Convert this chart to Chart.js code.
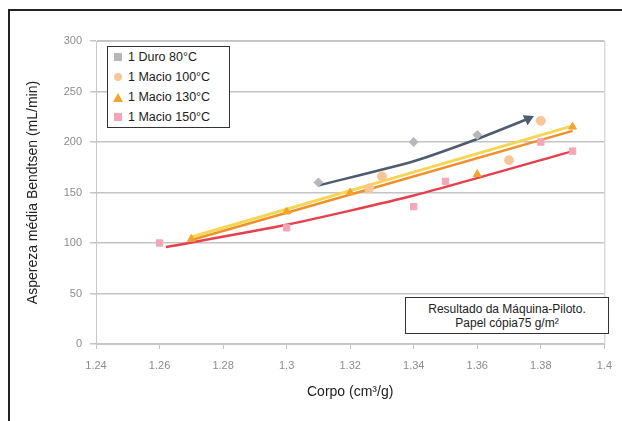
<!DOCTYPE html>
<html>
<head>
<meta charset="utf-8">
<script src="https://cdn.jsdelivr.net/npm/chart.js@4.4.1/dist/chart.umd.min.js"></script>
<style>
  body { margin: 0; background: #fff; font-family: "Liberation Sans", Arial, sans-serif; }
  #wrap { position: relative; width: 622px; height: 421px; overflow: hidden; }
  #moldura { position: absolute; left: 8px; top: 9px; width: 630px; height: 430px; border-left: 2px solid #222; border-top: 2px solid #222; }
  #grafico { position: absolute; left: 0; top: 0; }
  #legenda { position: absolute; left: 107px; top: 46px; width: 121px; height: 80px; border: 1px solid #333; background: #fff; }
  .item { position: relative; height: 20px; line-height: 20px; font-size: 12.5px; color: #222; padding-left: 20px; }
  .marca { position: absolute; left: 6px; top: 6px; width: 8px; height: 8px; }
  #nota { position: absolute; left: 405px; top: 297px; width: 204px; height: 37px; border: 1px solid #333; background: #fff;
          font-size: 12px; color: #222; text-align: center; line-height: 14px; padding-top: 4px; box-sizing: border-box; }
</style>
</head>
<body>
<div id="wrap">
  <div id="moldura"></div>
  <canvas id="grafico" width="622" height="421"></canvas>
  <div id="legenda"></div>
  <div id="nota">Resultado da Máquina-Piloto.<br>Papel cópia75 g/m²</div>
</div>
<script>
// eixos
const xTicks = [1.24, 1.26, 1.28, 1.30, 1.32, 1.34, 1.36, 1.38, 1.40]
const yTicks = [0, 50, 100, 150, 200, 250, 300]

// séries (pontos medidos)
const nomes = ['1 Duro 80°C', '1 Macio 100°C', '1 Macio 130°C', '1 Macio 150°C']
const duroX = [1.31, 1.34, 1.36]
const duroY = [160, 200, 207]
const macio100X = [1.326, 1.33, 1.37, 1.38]
const macio100Y = [154, 166, 182, 221]
const macio130X = [1.27, 1.30, 1.32, 1.36, 1.39]
const macio130Y = [104, 131, 150, 168, 215]
const macio150X = [1.26, 1.30, 1.34, 1.35, 1.38, 1.39]
const macio150Y = [100, 115, 136, 161, 200, 191]

// linhas de tendência
const tendDuroX = [1.31, 1.34, 1.36, 1.376]
const tendDuroY = [157, 181, 203, 223]
const tend100X = [1.27, 1.39]
const tend100Y = [106, 216]
const tend130X = [1.27, 1.39]
const tend130Y = [103, 211]
const tend150X = [1.262, 1.30, 1.34, 1.39]
const tend150Y = [96, 118, 147, 191]

const cores = ['#b8b8bc', '#f9c699', '#f2a42c', '#f3a6b8']
const estilos = ['rectRot', 'circle', 'triangle', 'rect']

const pares = (xs, ys) => xs.map((x, i) => ({ x: x, y: ys[i] }))

//LEGENDA
const legenda = document.querySelector('#legenda')
nomes.forEach((nome, i) => {
    const item = document.createElement('div')
    item.className = 'item'
    const marca = document.createElement('span')
    marca.className = 'marca'
    if (estilos[i] === 'triangle') {
        marca.style.width = '0'
        marca.style.height = '0'
        marca.style.borderLeft = '5px solid transparent'
        marca.style.borderRight = '5px solid transparent'
        marca.style.borderBottom = '9px solid ' + cores[i]
        marca.style.left = '5px'
    } else {
        marca.style.background = cores[i]
        if (estilos[i] === 'circle') marca.style.borderRadius = '50%'
    }
    item.appendChild(marca)
    item.appendChild(document.createTextNode(nome))
    legenda.appendChild(item)
})

//MOLDURA DA ÁREA DO GRÁFICO
const molduraArea = {
    id: 'molduraArea',
    afterDraw(chart) {
        const { ctx, chartArea: a } = chart
        ctx.save()
        ctx.strokeStyle = '#c8c8c8'
        ctx.lineWidth = 1
        ctx.strokeRect(a.left + 0.5, a.top + 0.5, a.right - a.left, a.bottom - a.top)
        ctx.restore()
    }
}

const linha = (xs, ys, cor, larg) => ({
    data: pares(xs, ys), showLine: true, borderColor: cor, borderWidth: larg,
    pointRadius: 0, tension: 0.2, fill: false, order: 2
})
const pontos = (xs, ys, i) => ({
    label: nomes[i], data: pares(xs, ys), showLine: false,
    backgroundColor: cores[i], borderColor: cores[i], pointStyle: estilos[i],
    pointRadius: 4.5, order: 1
})

const setaDuro = linha(tendDuroX, tendDuroY, '#4f5b6e', 2.5)
setaDuro.pointRadius = tendDuroX.map((_, i) => i === tendDuroX.length - 1 ? 4 : 0)
setaDuro.pointStyle = 'triangle'
setaDuro.rotation = 64
setaDuro.backgroundColor = '#4f5b6e'

new Chart(document.querySelector('#grafico'), {
    type: 'scatter',
    data: {
        datasets: [
            pontos(duroX, duroY, 0),
            pontos(macio100X, macio100Y, 1),
            pontos(macio130X, macio130Y, 2),
            pontos(macio150X, macio150Y, 3),
            setaDuro,
            linha(tend100X, tend100Y, '#f4d650', 3),
            linha(tend130X, tend130Y, '#ef8f2e', 2.5),
            linha(tend150X, tend150Y, '#e5404c', 2.5)
        ]
    },
    options: {
        responsive: false,
        devicePixelRatio: 1,
        animation: false,
        layout: { padding: { left: 18, top: 41, right: 11, bottom: 10 } },
        plugins: { legend: { display: false }, tooltip: { enabled: false } },
        scales: {
            x: {
                type: 'linear', min: xTicks[0], max: xTicks[xTicks.length - 1],
                afterBuildTicks: s => { s.ticks = xTicks.map(v => ({ value: v })) },
                afterFit: s => { s.height = 67 },
                ticks: {
                    color: '#8c8c8c', padding: 10, maxRotation: 0,
                    font: { family: 'Liberation Sans', size: 11 },
                    callback: v => String(Number(v.toFixed(2)))
                },
                grid: { drawOnChartArea: false, tickLength: 5, color: '#c0c0c0' },
                border: { color: '#c0c0c0' },
                title: {
                    display: true, text: 'Corpo (cm³/g)', color: '#222',
                    font: { family: 'Liberation Sans', size: 14 }, padding: { top: 10, bottom: 10 }
                }
            },
            y: {
                min: yTicks[0], max: yTicks[yTicks.length - 1],
                afterBuildTicks: s => { s.ticks = yTicks.map(v => ({ value: v })) },
                afterFit: s => { s.width = 78 },
                ticks: { color: '#8c8c8c', padding: 8, font: { family: 'Liberation Sans', size: 11 } },
                grid: { color: '#c4c4c4', tickLength: 6, lineWidth: 1.5 },
                border: { color: '#c0c0c0' },
                title: {
                    display: true, text: 'Aspereza média Bendtsen (mL/min)', color: '#222',
                    font: { family: 'Liberation Sans', size: 14 }, padding: { top: 7, bottom: 7 }
                }
            }
        }
    },
    plugins: [molduraArea]
})
</script>
</body>
</html>
